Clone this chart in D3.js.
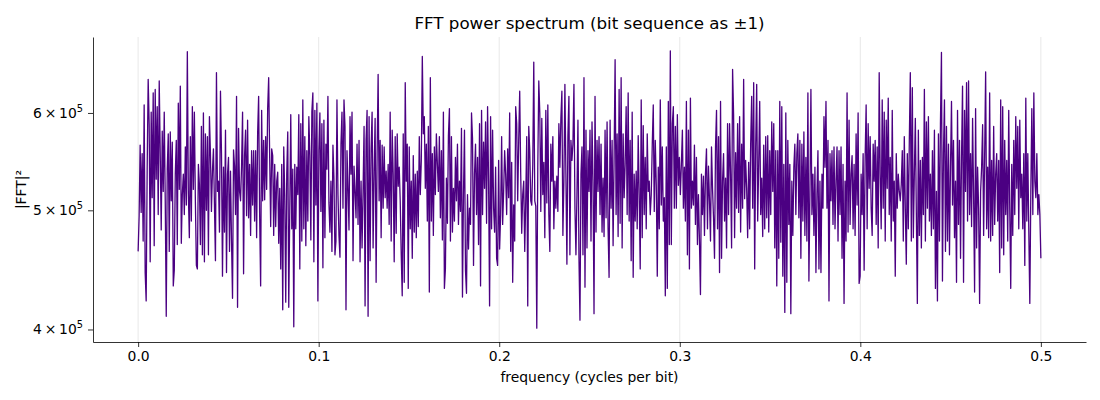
<!DOCTYPE html>
<html>
<head>
<meta charset="utf-8">
<script src="https://cdn.jsdelivr.net/npm/d3@7"></script>
<style>
  body { margin: 0; background: #fff; }
  text { font-family: "DejaVu Sans", sans-serif; fill: #000; }
</style>
</head>
<body>
<svg id="chart" width="1100" height="400"></svg>
<script>
// |FFT|^2, in thousands, left to right (f = 0 ... 0.5)
const power_k_1 = [463, 495, 565, 498, 556, 472, 609, 445, 422, 540, 639, 587, 454, 601, 512, 623, 468, 627, 530, 607, 496, 637, 556, 482, 580, 518, 601, 509, 410, 540, 577, 463, 579, 509, 568, 434, 447, 535, 570, 469, 611, 520, 631, 470, 515, 535, 496, 563, 505, 673, 516, 475, 574, 490, 607, 520, 601, 509, 451, 448, 545, 525, 469, 585, 460, 600, 454, 577, 500, 574, 460, 596, 556, 499, 538, 561, 505, 455, 647, 518, 528, 480, 625, 556, 442, 542, 480, 581, 445, 535, 552, 463, 538, 472, 424, 560, 543, 496, 619, 417, 583, 518, 509, 543, 601, 444, 554, 581, 495, 592, 493, 545, 477, 559, 505, 559, 490, 559, 475, 577, 619, 496, 434, 603, 509, 570, 510, 574, 520, 605, 641, 552, 485, 561, 554, 477, 545, 485, 528, 537, 470, 521, 448]
const power_k_2 = [545, 415, 563, 515, 421, 535, 579, 417, 499, 598, 483, 540, 402, 545, 483, 542, 515, 598, 448, 588, 472, 615, 483, 574, 468, 559, 490, 596, 554, 473, 601, 623, 454, 603, 505, 611, 422, 559, 600, 499, 588, 449, 592, 475, 566, 540, 619, 507, 480, 528, 463, 565, 531, 460, 472, 615, 515, 477, 458, 566, 601, 502, 615, 585, 415, 559, 521, 482, 596, 535, 601, 455, 543, 518, 493, 566, 487, 570, 454, 528, 466, 518, 585, 418, 570, 603, 410, 596, 455, 561, 601, 466, 538, 594, 437, 556, 645, 509, 570, 475, 565, 502, 563, 512, 538, 502, 545, 487, 601, 472, 581, 535, 454, 574, 479, 577, 523, 542, 509, 460, 426, 577, 437, 635, 528, 566, 432, 563, 483, 528, 457, 554, 480, 535, 475, 538, 485, 574, 515, 549, 667, 577, 596, 521, 566, 490, 585, 429, 641, 490, 556, 477, 563, 515, 577, 545]
const power_k_3 = [518, 574, 493, 559, 473, 601, 432, 448, 531, 488, 575, 605, 472, 574, 480, 521, 490, 552, 509, 566, 487, 528, 499, 583, 425, 515, 581, 447, 428, 515, 465, 502, 487, 600, 572, 451, 535, 566, 496, 552, 469, 588, 434, 603, 496, 568, 521, 590, 488, 607, 528, 418, 596, 483, 581, 502, 480, 542, 457, 451, 549, 465, 496, 574, 487, 518, 559, 535, 496, 561, 512, 600, 463, 547, 437, 505, 472, 607, 588, 509, 570, 625, 535, 479, 515, 528, 463, 509, 574, 418, 585, 559, 509, 505, 545, 660, 509, 504, 401, 542, 637, 600, 499, 594, 515, 547, 475, 603, 507, 609, 496, 463, 566, 528, 574, 483, 528, 502, 533, 499, 588, 542, 594, 625, 477, 528, 633, 535, 452, 574, 619, 460, 570, 549, 566, 633, 502, 460, 515, 592, 458, 407, 535, 563, 460, 641, 433, 581, 466, 559, 518, 581, 472, 590]
const power_k_4 = [528, 412, 619, 480, 570, 518, 574, 496, 566, 480, 531, 476, 581, 493, 590, 483, 441, 592, 502, 570, 468, 552, 663, 496, 577, 476, 627, 488, 641, 466, 577, 512, 545, 607, 496, 623, 490, 570, 455, 601, 441, 535, 490, 538, 483, 575, 515, 448, 615, 475, 586, 496, 552, 483, 577, 518, 528, 496, 515, 565, 609, 499, 570, 524, 442, 542, 483, 615, 505, 563, 490, 512, 426, 563, 432, 613, 469, 674, 469, 588, 607, 502, 585, 502, 598, 524, 552, 515, 545, 581, 502, 542, 490, 613, 460, 581, 448, 617, 502, 528, 505, 565, 487, 552, 469, 515, 472, 427, 535, 496, 533, 477, 535, 561, 483, 543, 509, 472, 563, 521, 493, 457, 563, 603, 483, 574, 445, 613, 457, 528, 556, 490, 531, 466, 588, 496, 588, 535, 466, 651, 598, 475, 557, 502, 588, 498, 596, 480, 566, 502, 639, 511, 549]
const power_k_5 = [521, 475, 547, 483, 566, 619, 502, 635, 448, 563, 633, 490, 545, 613, 496, 531, 476, 565, 483, 574, 493, 575, 480, 559, 496, 590, 518, 588, 466, 559, 434, 559, 457, 613, 471, 607, 442, 545, 413, 600, 437, 570, 487, 545, 412, 528, 477, 542, 566, 496, 556, 577, 493, 570, 457, 566, 490, 579, 477, 552, 472, 623, 438, 515, 627, 496, 535, 477, 542, 445, 515, 559, 448, 528, 445, 535, 502, 596, 542, 613, 502, 570, 422, 556, 509, 559, 487, 563, 483, 528, 563, 472, 559, 496, 563, 457, 545, 420, 528, 472, 623, 480, 592, 487, 535, 554, 483, 545, 477, 577, 505, 600, 436, 442, 535, 496, 556, 447, 552, 609, 483, 588, 521, 574, 502, 477, 566, 528, 570, 487, 563, 466, 647, 535, 483, 615, 502, 601, 472, 592, 521, 617, 496, 552, 472, 603, 490, 528, 442, 556, 502, 535, 518, 509]
const power_k_6 = [525, 559, 472, 574, 502, 452, 556, 483, 570, 647, 472, 629, 475, 535, 594, 496, 420, 581, 477, 549, 466, 552, 496, 627, 472, 590, 502, 596, 490, 535, 477, 559, 483, 581, 432, 518, 422, 577, 472, 588, 672, 438, 556, 615, 463, 585, 472, 566, 460, 542, 613, 505, 570, 475, 528, 437, 603, 487, 570, 457, 552, 631, 437, 603, 518, 635, 490, 637, 496, 556, 485, 594, 515, 429, 605, 466, 542, 502, 420, 518, 542, 587, 477, 552, 648, 483, 542, 475, 623, 472, 549, 477, 585, 487, 535, 556, 490, 549, 445, 615, 466, 607, 460, 570, 496, 549, 472, 603, 502, 432, 545, 477, 570, 496, 596, 521, 585, 483, 592, 512, 535, 483, 556, 451, 617, 490, 556, 480, 420, 518, 605, 496, 623, 528, 512, 556, 496, 515, 496, 457]

const xTicks = [0, 0.1, 0.2, 0.3, 0.4, 0.5]
const yTicks = [4e5, 5e5, 6e5]
const fMax = 0.5

const power_k = [].concat(power_k_1, power_k_2, power_k_3, power_k_4, power_k_5, power_k_6)
const n = power_k.length
const spectrum = power_k.map((v, i) => ({ f: i / (n - 1) * fMax, p: v * 1000 }))

const svg = d3.select("#chart")
const plot = { left: 93, right: 1086, top: 37, bottom: 342 }

// matplotlib style 5% margins (log space for y)
const fPad = fMax * 0.05
const x = d3.scaleLinear().domain([-fPad, fMax + fPad]).range([plot.left, plot.right])
const [pMin, pMax] = d3.extent(spectrum, d => d.p)
const lPad = (Math.log10(pMax) - Math.log10(pMin)) * 0.05
const y = d3.scaleLog()
    .domain([Math.pow(10, Math.log10(pMin) - lPad), Math.pow(10, Math.log10(pMax) + lPad)])
    .range([plot.bottom, plot.top])

// vertical grid at x ticks
svg.append("g").selectAll("line").data(xTicks).enter().append("line")
    .attr("x1", d => x(d)).attr("x2", d => x(d))
    .attr("y1", plot.top).attr("y2", plot.bottom)
    .attr("stroke", "#e2e2e2").attr("stroke-width", 0.8)

// spectrum line
const line = d3.line().x(d => x(d.f)).y(d => y(d.p))
svg.append("path").datum(spectrum)
    .attr("d", line)
    .attr("fill", "none")
    .attr("stroke", "#4b0082")
    .attr("stroke-width", 1.3)
    .attr("stroke-linejoin", "round")

// x axis
const xAxis = svg.append("g")
    .attr("transform", `translate(0,${plot.bottom})`)
    .call(d3.axisBottom(x).tickValues(xTicks).tickFormat(d3.format(".1f")).tickSize(5).tickSizeOuter(0).tickPadding(4))
xAxis.selectAll("text").attr("font-size", 13.9).attr("font-family", "DejaVu Sans")
xAxis.select(".domain").attr("stroke-width", 0.8)
xAxis.selectAll(".tick line").attr("stroke-width", 0.8)

// y axis (log, labels as m × 10^e)
const yAxis = svg.append("g")
    .attr("transform", `translate(${plot.left},0)`)
    .call(d3.axisLeft(y).tickValues(yTicks).tickFormat("").tickSize(5).tickSizeOuter(0))
yAxis.select(".domain").attr("stroke-width", 0.8)
yAxis.selectAll(".tick line").attr("stroke-width", 0.8)

yTicks.forEach(v => {
    let e = Math.floor(Math.log10(v))
    let m = Math.round(v / Math.pow(10, e))
    let t = svg.append("text")
        .attr("x", plot.left - 10).attr("y", y(v) + 5)
        .attr("text-anchor", "end")
        .attr("font-size", 13.9)
    t.append("tspan").text(m + "\u2009\u00d7\u200910")
    t.append("tspan").attr("dy", -6).attr("font-size", 9.8).text(e)
})

// labels
svg.append("text")
    .attr("x", (plot.left + plot.right) / 2).attr("y", 29)
    .attr("text-anchor", "middle").attr("font-size", 16.7)
    .text("FFT power spectrum (bit sequence as \u00b11)")

svg.append("text")
    .attr("x", (plot.left + plot.right) / 2).attr("y", 382)
    .attr("text-anchor", "middle").attr("font-size", 13.9)
    .text("frequency (cycles per bit)")

svg.append("text")
    .attr("transform", `translate(26,${(plot.top + plot.bottom) / 2}) rotate(-90)`)
    .attr("text-anchor", "middle").attr("font-size", 13.9)
    .text("|FFT|\u00b2")
</script>
</body>
</html>
